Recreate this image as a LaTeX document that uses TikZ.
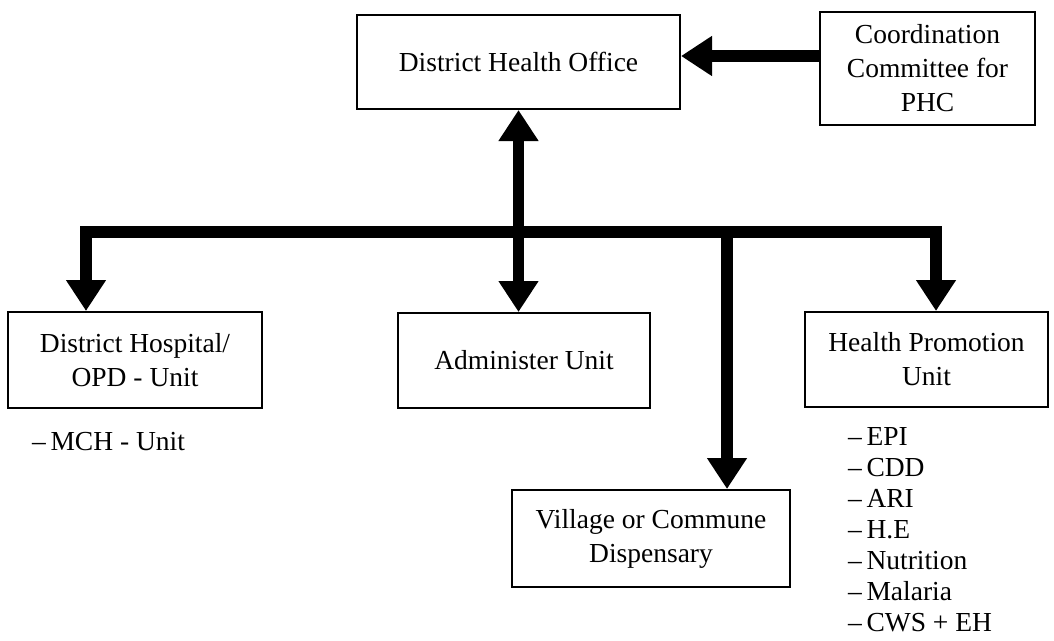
\documentclass[tikz,border=0pt]{standalone}
\usepackage{fontspec}
\setmainfont{Liberation Serif}
\usetikzlibrary{arrows.meta}
\tikzset{
  box/.style={draw=black, line width=2pt, inner sep=0pt, align=center,
    font=\fontsize{27.5}{34}\selectfont},
  conn/.style={draw=black, line width=11.5pt, line join=miter, line cap=butt},
  tip/.tip={Triangle[width=38pt,length=31pt]},
  listtext/.style={inner sep=0pt, align=left, font=\fontsize{27.5}{31}\selectfont}
}
\begin{document}
\begin{tikzpicture}[x=1pt,y=1pt]
\useasboundingbox (0,0) rectangle (1054,-640);
% boxes
\node[box, minimum width=323pt, minimum height=94pt] (dho) at (518.5,-62) {District Health Office};
\node[box, minimum width=215pt, minimum height=113pt] (coord) at (927.5,-68.5) {Coordination\\Committee for\\PHC};
\node[box, minimum width=254pt, minimum height=96pt] (dh) at (135,-360) {District Hospital/\\OPD - Unit};
\node[box, minimum width=252pt, minimum height=95pt] (adm) at (524,-360.5) {Administer Unit};
\node[box, minimum width=243pt, minimum height=95pt] (hp) at (926.5,-359.5) {Health Promotion\\Unit};
\node[box, minimum width=278pt, minimum height=97pt] (vil) at (651,-538.5) {Village or Commune\\Dispensary};
% sub-lists
\node[listtext, anchor=base west] (mch) at (32,-450) {\textendash\,MCH - Unit};
\node[listtext, anchor=north west] (hplist) at (848,-427) {\textendash\,EPI\\\textendash\,CDD\\\textendash\,ARI\\\textendash\,H.E\\\textendash\,Nutrition\\\textendash\,Malaria\\\textendash\,CWS + EH};
% connectors
\coordinate (ha) at (820,-56);
\draw[conn, -tip] (ha) -- (ha -| dho.east);
\draw[conn, tip-tip] (dho.south) -- (dho.south |- adm.north);
\coordinate (bl) at (86,-232);
\coordinate (br) at (936,-232);
\coordinate (bm) at (727,-232);
\draw[conn, tip-tip] (bl |- dh.north) -- (bl) -- (br) -- (br |- hp.north);
\draw[conn, -tip] (bm) -- (bm |- vil.north);
\end{tikzpicture}
\end{document}
